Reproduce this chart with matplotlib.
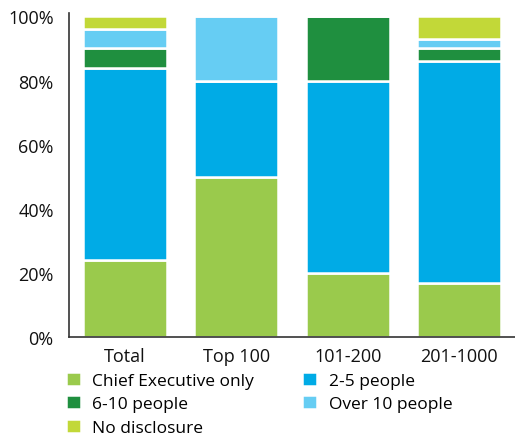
import matplotlib.pyplot as plt
import numpy as np
from matplotlib.ticker import FuncFormatter

plt.rcParams['font.family'] = ['Open Sans', 'DejaVu Sans']

# Share of companies by number of people on the remuneration decision (%)
groups = ['Total', 'Top 100', '101-200', '201-1000']
chief_exec = [24, 50, 20, 17]
people_2_5 = [60, 30, 60, 69]
people_6_10 = [6, 0, 20, 4]
over_10 = [6, 20, 0, 3]
no_disclosure = [4, 0, 0, 7]

series = [
    ('Chief Executive only', chief_exec, '#9aca4c'),
    ('2-5 people', people_2_5, '#00abe6'),
    ('6-10 people', people_6_10, '#1f8f3f'),
    ('Over 10 people', over_10, '#66cdf3'),
    ('No disclosure', no_disclosure, '#c2d838'),
]

fig = plt.figure(figsize=(5.15, 4.39), dpi=100)
ax = fig.add_axes([0.134, 0.229, 0.866, 0.739])

x = np.arange(len(groups))
bottom = np.zeros(len(groups))
handles = {}
for name, vals, color in series:
    vals = np.array(vals, dtype=float)
    bars = ax.bar(x, vals, width=0.75, bottom=bottom, color=color,
                  edgecolor='white', linewidth=1.8, label=name)
    handles[name] = bars
    bottom += vals

ax.set_xlim(-0.5, 3.5)
ax.set_ylim(0, 101)
ax.set_yticks(np.arange(0, 101, 20))
ax.yaxis.set_major_formatter(FuncFormatter(lambda v, p: f'{v:.0f}%'))
ax.set_xticks(x)
ax.set_xticklabels(groups)
ax.tick_params(length=0, labelsize=13, colors='#111111')
ax.tick_params(axis='x', pad=7)
ax.tick_params(axis='y', pad=11)
for s in ['top', 'right']:
    ax.spines[s].set_visible(False)
for s in ['left', 'bottom']:
    ax.spines[s].set_color('#333333')
    ax.spines[s].set_linewidth(1.2)

# column-first order so rows read CE / 2-5, 6-10 / Over 10, No disclosure
order = ['Chief Executive only', '6-10 people', 'No disclosure',
         '2-5 people', 'Over 10 people']
fig.legend([handles[n] for n in order], order, ncol=2,
           loc='upper left', bbox_to_anchor=(0.128, 0.151),
           frameon=False, fontsize=12.5, handlelength=0.85, handleheight=0.85,
           handletextpad=0.68, columnspacing=2.75, labelspacing=0.38,
           borderpad=0, borderaxespad=0)

fig.savefig('out.png', dpi=100)
